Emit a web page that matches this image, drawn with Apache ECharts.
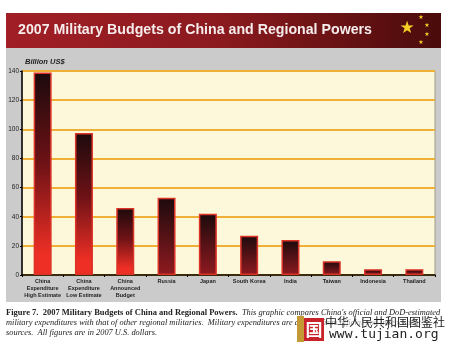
<!DOCTYPE html>
<html>
<head>
<meta charset="utf-8">
<style>
html,body{margin:0;padding:0;background:#fff;}
#container{width:450px;height:350px;}
</style>
<script src="https://cdn.jsdelivr.net/npm/echarts@6/dist/echarts.min.js"></script>
</head>
<body>
<div id="container"></div>
<script>
var categories = ['China\nExpenditure\nHigh Estimate', 'China\nExpenditure\nLow Estimate', 'China\nAnnounced\nBudget', 'Russia', 'Japan', 'South Korea', 'India', 'Taiwan', 'Indonesia', 'Thailand'];
var budgets = [139, 97.5, 46, 53, 42, 27, 24, 9.5, 4, 4];
var isChina = [true, true, true, false, false, false, false, false, false, false];

var myChart = echarts.init(document.getElementById('container'));

function barColor(china) {
    // 中国的柱子底部是亮红色，其他偏暗
    var stops = china
        ? [{offset: 0, color: '#1c0a0c'}, {offset: 0.45, color: '#6e1216'}, {offset: 0.9, color: '#ee2f25'}, {offset: 1, color: '#ee2f25'}]
        : [{offset: 0, color: '#1c0a0c'}, {offset: 1, color: '#8f1a20'}];
    return new echarts.graphic.LinearGradient(0, 0, 0, 1, stops);
}

var barData = [];
for (var i = 0; i < budgets.length; i++) {
    barData.push({
        value: budgets[i],
        itemStyle: {color: barColor(isChina[i])}
    });
}

var smallStar = '6px "DejaVu Sans"';

var option = {
    backgroundColor: '#ffffff',
    animation: false,
    grid: {
        top: 71,
        left: 22,
        right: 15,
        bottom: 75,
        show: true,
        backgroundColor: '#fdf8d9',
        borderColor: '#a09a88',
        borderWidth: 1
    },
    xAxis: {
        type: 'category',
        data: categories,
        axisLine: {lineStyle: {color: '#000', width: 1.5}},
        axisTick: {show: true, length: 2, lineStyle: {color: '#000'}},
        axisLabel: {
            interval: 0,
            color: '#222',
            fontFamily: 'Liberation Sans',
            fontSize: 5.5,
            fontWeight: 'bold',
            lineHeight: 6.8,
            margin: 3
        }
    },
    yAxis: {
        type: 'value',
        min: 0,
        max: 140,
        interval: 20,
        axisLine: {show: true, lineStyle: {color: '#000', width: 1.5}},
        axisTick: {show: true, length: 2, lineStyle: {color: '#000'}},
        axisLabel: {
            color: '#222',
            fontFamily: 'Liberation Sans',
            fontSize: 6.5,
            margin: 3
        },
        splitLine: {show: true, lineStyle: {color: '#efb035', width: 1.8}}
    },
    series: [{
        type: 'bar',
        data: barData,
        barWidth: 18,
        z: 5,
        itemStyle: {borderColor: '#dc3328', borderWidth: 1.5}
    }],
    graphic: [
        // 灰色底板和标题栏
        {
            type: 'rect', z: -10, silent: true,
            shape: {x: 6, y: 47, width: 435, height: 255},
            style: {fill: '#cbcbcb'}
        },
        {
            type: 'rect', z: -9, silent: true,
            shape: {x: 6, y: 13, width: 435, height: 35},
            style: {
                fill: new echarts.graphic.LinearGradient(0, 0, 1, 0, [
                    {offset: 0, color: '#a11f26'},
                    {offset: 0.5, color: '#8a1a1e'},
                    {offset: 1, color: '#4a0b0b'}
                ])
            }
        },
        {
            type: 'text', z: 10, silent: true, x: 18, y: 30,
            style: {text: '2007 Military Budgets of China and Regional Powers', fill: '#f6ecec', font: 'bold 14.2px "Liberation Sans"', textVerticalAlign: 'middle'}
        },
        {type: 'text', z: 10, silent: true, x: 407, y: 29, style: {text: '★', fill: '#f5cf25', font: '17px "DejaVu Sans"', textAlign: 'center', textVerticalAlign: 'middle'}},
        {type: 'text', z: 10, silent: true, x: 421, y: 17, style: {text: '★', fill: '#f5cf25', font: smallStar, textAlign: 'center', textVerticalAlign: 'middle'}},
        {type: 'text', z: 10, silent: true, x: 427, y: 25, style: {text: '★', fill: '#f5cf25', font: smallStar, textAlign: 'center', textVerticalAlign: 'middle'}},
        {type: 'text', z: 10, silent: true, x: 427, y: 34, style: {text: '★', fill: '#f5cf25', font: smallStar, textAlign: 'center', textVerticalAlign: 'middle'}},
        {type: 'text', z: 10, silent: true, x: 421, y: 42, style: {text: '★', fill: '#f5cf25', font: smallStar, textAlign: 'center', textVerticalAlign: 'middle'}},
        {
            type: 'text', z: 10, silent: true, x: 25, y: 62,
            style: {text: 'Billion US$', fill: '#222', font: 'italic bold 7.5px "Liberation Sans"', textVerticalAlign: 'middle'}
        },
        // 图注
        {
            type: 'text', z: 10, silent: true, x: 6, y: 308,
            style: {
                text: '{b|Figure 7.  2007 Military Budgets of China and Regional Powers.}{i|  This graphic compares China\'s official and DoD-estimated}\n{i|military expenditures with that of other regional militaries.  Military expenditures are derived from official and independent}\n{i|sources.  All figures are in 2007 U.S. dollars.}',
                fill: '#222',
                lineHeight: 10,
                textVerticalAlign: 'top',
                rich: {
                    b: {font: 'bold 8.5px "Liberation Serif"', fill: '#222', lineHeight: 10},
                    i: {font: 'italic 8.4px "Liberation Serif"', fill: '#222', lineHeight: 10}
                }
            }
        },
        // 水印
        {type: 'rect', z: 20, silent: true, shape: {x: 297, y: 316, width: 7, height: 26}, style: {fill: '#c49a35'}},
        {type: 'rect', z: 20, silent: true, shape: {x: 304, y: 318, width: 20, height: 23}, style: {fill: '#c8222a'}},
        {type: 'text', z: 21, silent: true, x: 314, y: 330, style: {text: '国', fill: '#fff', font: 'bold 17px "Noto Sans CJK SC"', textAlign: 'center', textVerticalAlign: 'middle'}},
        {type: 'text', z: 21, silent: true, x: 325, y: 322, style: {text: '中华人民共和国图鉴社', fill: '#222', font: '12px "Noto Sans CJK SC"', textVerticalAlign: 'middle', backgroundColor: 'rgba(255,255,255,0.6)'}},
        {type: 'text', z: 21, silent: true, x: 329, y: 335, style: {text: 'www.tujian.org', fill: '#222', font: '13px "DejaVu Sans Mono"', textVerticalAlign: 'middle', backgroundColor: 'rgba(255,255,255,0.6)'}}
    ]
};
myChart.setOption(option);
</script>
</body>
</html>
